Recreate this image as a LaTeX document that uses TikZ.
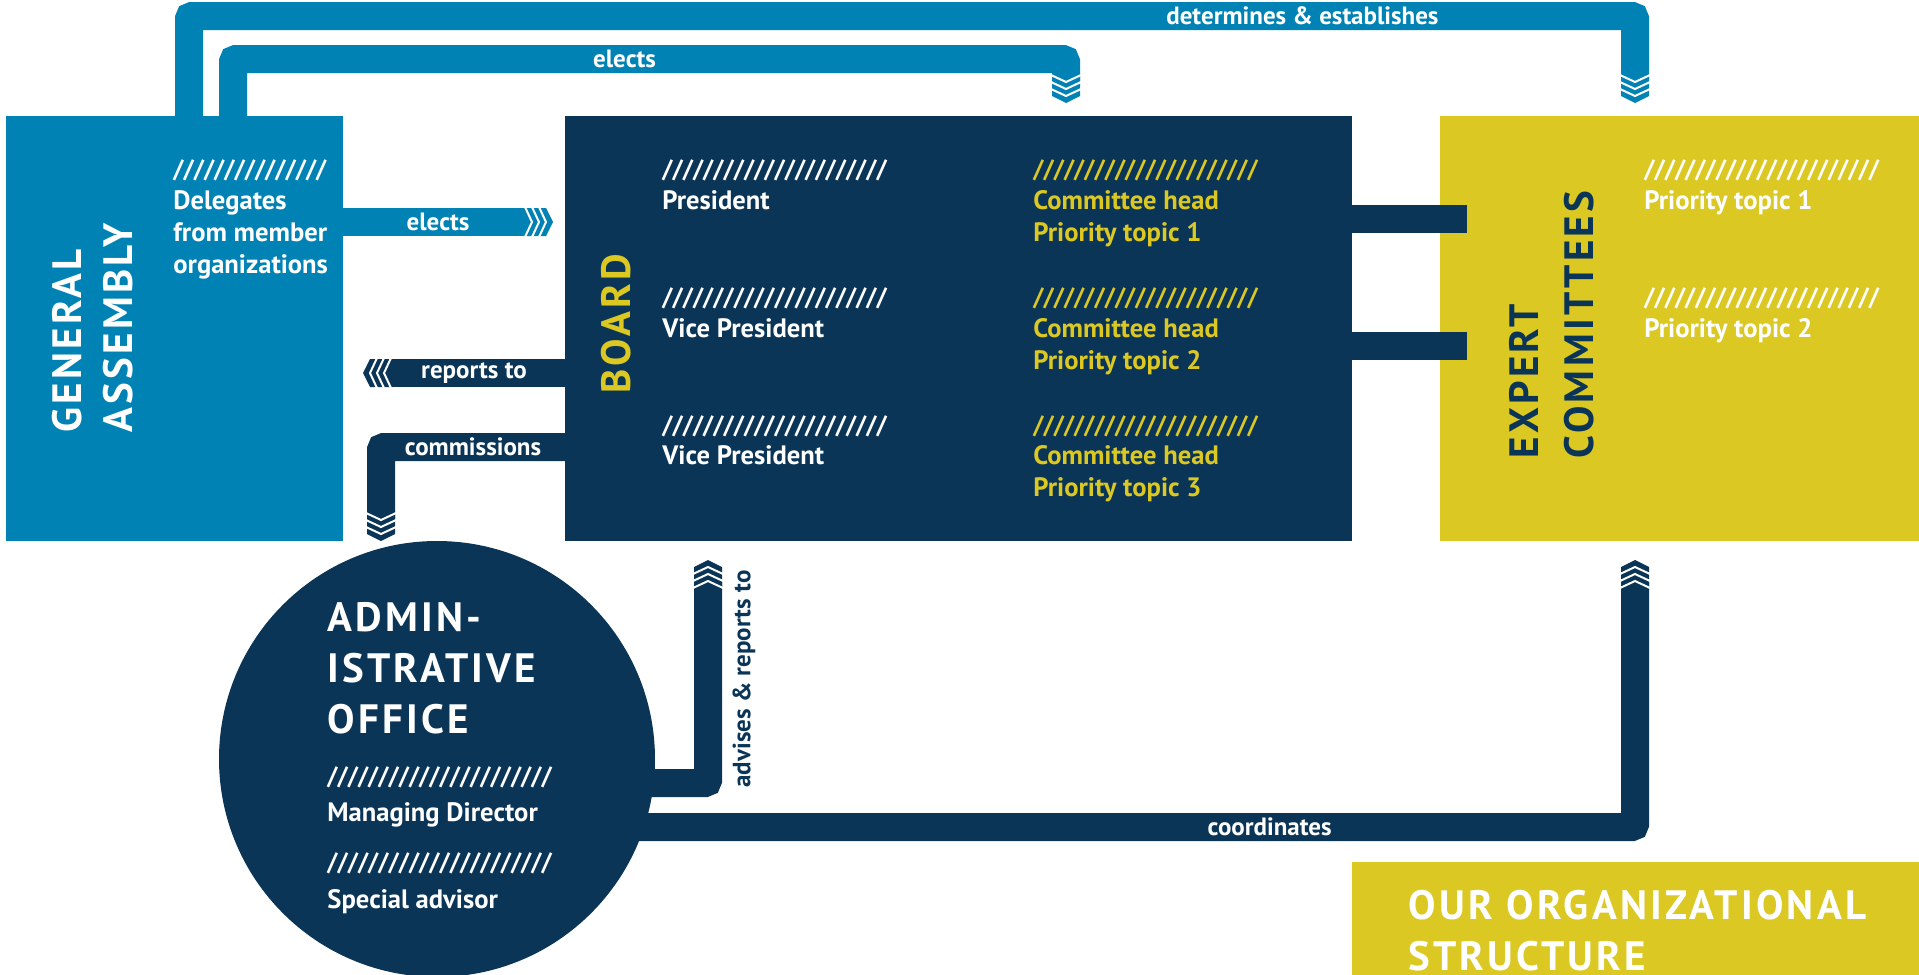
\documentclass[tikz,border=0pt]{standalone}
\usepackage{fontspec}
\setmainfont{PT Sans}
\newfontfamily\headfont{PT Sans}[LetterSpace=8]

\definecolor{gablue}{RGB}{0,131,180}
\definecolor{navy}{RGB}{11,53,86}
\definecolor{mustard}{RGB}{220,200,35}

\tikzset{
	box/.style={inner sep=0pt, outer sep=0pt, anchor=north west},
	band/.style={line width=14pt, rounded corners=1.5pt},
	lbl/.style={text=white, inner sep=0pt, font=\bfseries\fontsize{12.5}{14}\selectfont},
	txt/.style={anchor=base west, inner sep=0pt, align=left, font=\bfseries\fontsize{13.3}{16}\selectfont},
	slash/.style={anchor=base west, inner sep=0pt, font=\bfseries\fontsize{12.5}{16}\selectfont},
	head/.style={anchor=base west, inner sep=0pt, align=left, font=\headfont\bfseries\fontsize{20.5}{25.5}\selectfont},
	chev/.pic={
		\fill[#1] (-30,-14) -- (-7,-14) -- (0,0) -- (-7,14) -- (-30,14) -- cycle;
		\foreach \k in {7,14,21}
			\draw[white, line width=1pt] (-\k-7,-15) -- (-\k,0) -- (-\k-7,15);
	}
}

\begin{document}
\begin{tikzpicture}[x=0.5pt, y=-0.5pt]
	\useasboundingbox (0,0) rectangle (1919,975);

	% boxes
	\node[box, fill=gablue, minimum width=168.5pt, minimum height=212.5pt] (ga) at (6,116) {};
	\node[box, fill=navy, minimum width=393.5pt, minimum height=212.5pt] (board) at (565,116) {};
	\node[box, fill=mustard, minimum width=240pt, minimum height=212.5pt] (expert) at (1440,116) {};
	\node[box, fill=mustard, minimum width=284pt, minimum height=60pt] (title) at (1352,862) {};
	\node[circle, fill=navy, inner sep=0pt, outer sep=0pt, minimum size=218pt] (admin) at (437,759) {};

	% tips
	\coordinate (detTip) at (1635,103);
	\coordinate (elTip) at (1066,103);
	\coordinate (bdTip) at (553,222);
	\coordinate (repTip) at (363,373);
	\coordinate (comTip) at (381,541);
	\coordinate (advTip) at (708,560);
	\coordinate (cooTip) at (1635,560);

	% connectors
	\draw[band, gablue] ([xshift=91.5pt]ga.north west) -- ++(0,-100) -| node[lbl, pos=0.385]{determines \& establishes} ([yshift=10pt]detTip);
	\draw[band, gablue] ([xshift=113.5pt]ga.north west) -- ++(0,-57) -| node[lbl, pos=0.235]{elects} ([yshift=10pt]elTip);
	\draw[band, gablue] (ga.east |- bdTip) -- node[lbl]{elects} ([xshift=-10pt]bdTip);
	\draw[band, navy] (board.west |- repTip) -- node[lbl]{reports to} ([xshift=10pt]repTip);
	\draw[band, navy] (board.west |- 0,447) -| node[lbl, pos=0.25]{commissions} ([yshift=10pt]comTip);
	\draw[band, navy] ([shift={(90pt,-12pt)}]admin.center) -| ([yshift=-10pt]advTip);
	\draw[band, navy] ([shift={(80pt,-34pt)}]admin.center) -| node[lbl, pos=0.324]{coordinates} ([yshift=-10pt]cooTip);
	\draw[band, navy, rounded corners=0pt] ([yshift=-51.5pt]board.north east) -- ++(115,0);
	\draw[band, navy, rounded corners=0pt] ([yshift=-115pt]board.north east) -- ++(115,0);

	\pic[rotate=-90] at (detTip) {chev=gablue};
	\pic[rotate=-90] at (elTip) {chev=gablue};
	\pic at (bdTip) {chev=gablue};
	\pic[rotate=180] at (repTip) {chev=navy};
	\pic[rotate=-90] at (comTip) {chev=navy};
	\pic[rotate=90] at (advTip) {chev=navy};
	\pic[rotate=90] at (cooTip) {chev=navy};

	\node[text=navy, rotate=90, font=\bfseries\fontsize{12.5}{14}\selectfont] (advL) at (744,679) {advises \& reports to};

	% general assembly
	\node[head, rotate=90, text=white] (gaH1) at (82,433) {GENERAL};
	\node[head, rotate=90, text=white] (gaH2) at (132,433) {ASSEMBLY};
	\node[slash, text=white] (gaS) at (173,177) {///////////////};
	\node[txt, text=white] (gaT) at (173,273) {Delegates\\from member\\organizations};

	% board
	\node[head, rotate=90, text=mustard] (bdH) at (630,394) {BOARD};
	\node[slash, text=white] (bdS1) at (662,177) {//////////////////////};
	\node[txt, text=white] (bdT1) at (662,209) {President};
	\node[slash, text=white] (bdS2) at (662,305) {//////////////////////};
	\node[txt, text=white] (bdT2) at (662,337) {Vice President};
	\node[slash, text=white] (bdS3) at (662,433) {//////////////////////};
	\node[txt, text=white] (bdT3) at (662,464) {Vice President};
	\node[slash, text=mustard] (chS1) at (1033,177) {//////////////////////};
	\node[txt, text=mustard] (chT1) at (1033,241) {Committee head\\Priority topic 1};
	\node[slash, text=mustard] (chS2) at (1033,305) {//////////////////////};
	\node[txt, text=mustard] (chT2) at (1033,369) {Committee head\\Priority topic 2};
	\node[slash, text=mustard] (chS3) at (1033,433) {//////////////////////};
	\node[txt, text=mustard] (chT3) at (1033,496) {Committee head\\Priority topic 3};

	% expert committees
	\node[head, rotate=90, text=navy] (exH1) at (1538,459) {EXPERT};
	\node[head, rotate=90, text=navy] (exH2) at (1593,459) {COMMITTEES};
	\node[slash, text=white] (exS1) at (1644,177) {///////////////////////};
	\node[txt, text=white] (exT1) at (1644,209) {Priority topic 1};
	\node[slash, text=white] (exS2) at (1644,305) {///////////////////////};
	\node[txt, text=white] (exT2) at (1644,337) {Priority topic 2};

	% administrative office
	\node[head, text=white] (adH) at (327,733) {ADMIN-\\ISTRATIVE\\OFFICE};
	\node[slash, text=white] (adS1) at (327,784) {//////////////////////};
	\node[txt, text=white] (adT1) at (327,821) {Managing Director};
	\node[slash, text=white] (adS2) at (327,870) {//////////////////////};
	\node[txt, text=white] (adT2) at (327,908) {Special advisor};

	% title
	\node[head, text=white] (tiH) at (1408,970) {OUR ORGANIZATIONAL\\STRUCTURE};
\end{tikzpicture}
\end{document}
